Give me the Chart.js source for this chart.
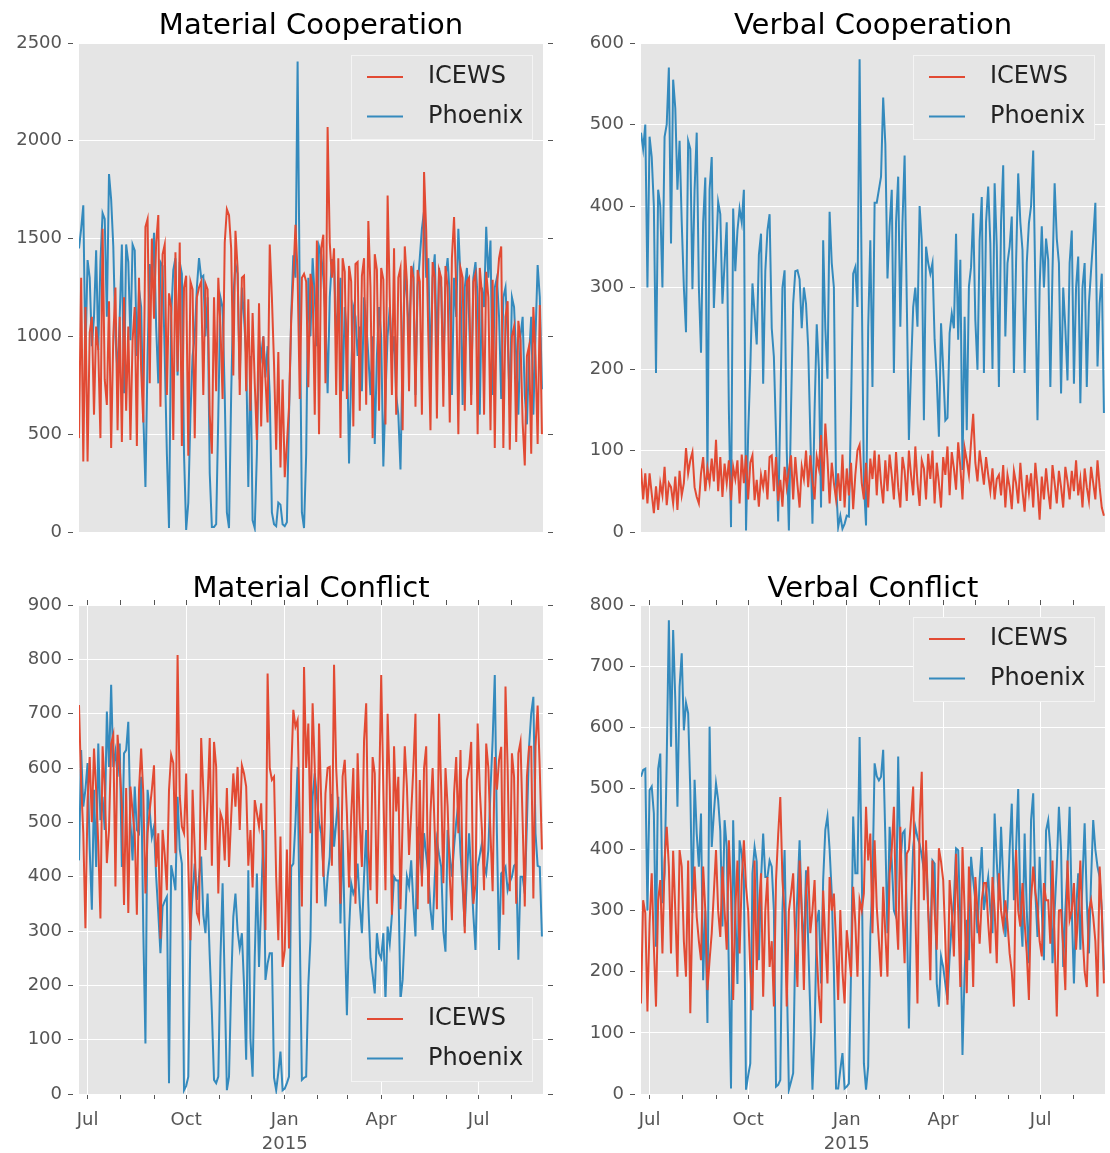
<!DOCTYPE html>
<html>
<head>
<meta charset="utf-8">
<title>ICEWS vs Phoenix</title>
<script src="https://cdn.jsdelivr.net/npm/chart.js@4.4.0/dist/chart.umd.min.js"></script>
<style>
  body { margin: 0; width: 1110px; height: 1153px; overflow: hidden; background: #fff; position: relative; }
  .panel { position: absolute; width: 560px; }
</style>
</head>
<body>
<div class="panel" style="left:0;top:0;height:560px"><canvas id="matCoop"></canvas></div>
<div class="panel" style="left:562px;top:0;height:560px"><canvas id="verbCoop"></canvas></div>
<div class="panel" style="left:0;top:563px;height:590px"><canvas id="matConf"></canvas></div>
<div class="panel" style="left:562px;top:563px;height:590px"><canvas id="verbConf"></canvas></div>
<script>
// Daily event counts, every second day from 2014-06-23
const startDate = '2014-06-23';
const stepDays = 2;
const lastDay = 433; // 2015-08-30

const seriesNames = ['ICEWS', 'Phoenix'];
const panelTitles = ['Material Cooperation', 'Verbal Cooperation', 'Material Conflict', 'Verbal Conflict'];

// x axis: one tick per month, labels only on the quarters
const monthStarts = ['2014-07-01', '2014-08-01', '2014-09-01', '2014-10-01', '2014-11-01', '2014-12-01',
    '2015-01-01', '2015-02-01', '2015-03-01', '2015-04-01', '2015-05-01', '2015-06-01', '2015-07-01', '2015-08-01'];
const monthLabels = ['Jul', '', '', 'Oct', '', '', ['Jan', '2015'], '', '', 'Apr', '', '', 'Jul', ''];

// y axis ticks per panel
const matCoopTicks = [0, 500, 1000, 1500, 2000, 2500];
const verbCoopTicks = [0, 100, 200, 300, 400, 500, 600];
const matConfTicks = [0, 100, 200, 300, 400, 500, 600, 700, 800, 900];
const verbConfTicks = [0, 100, 200, 300, 400, 500, 600, 700, 800];

const matCoopIcews = [
    480, 1300, 360, 1150, 360, 1020, 1100, 600, 1050, 930, 480, 1550, 780, 650,
    1180, 430, 1000, 1250, 520, 1100, 460, 1200, 620, 1050, 470, 980, 1150, 440,
    1300, 830, 560, 1560, 1600, 760, 1500, 1090, 1480, 1620, 640, 1420, 1470, 700,
    1220, 1150, 470, 1430, 820, 1480, 440, 1250, 1310, 390, 1280, 1240, 480, 1200,
    1250, 1280, 700, 1270, 1240, 600, 400, 1200, 720, 1300, 1050, 680, 1480, 1650,
    1620, 1450, 800, 1540, 1350, 700, 1300, 1310, 720, 1190, 620, 1120, 760, 470,
    1170, 540, 1000, 780, 560, 1470, 1200, 860, 420, 920, 330, 780, 280, 450,
    640, 1080, 1300, 1570, 1320, 680, 1300, 1320, 1280, 740, 1320, 1250, 600, 1490,
    500, 1450, 1520, 760, 2070, 1480, 1300, 1450, 700, 1400, 480, 1400, 1330, 680,
    1360, 1280, 540, 1370, 1380, 620, 1310, 1400, 650, 1590, 1250, 480, 1420, 1340,
    620, 1350, 1290, 550, 1720, 1200, 700, 1450, 600, 1300, 1350, 520, 1460, 1280,
    720, 1360, 1300, 640, 1340, 1280, 600, 1840, 1540, 1000, 520, 1380, 1300, 580,
    1340, 1300, 640, 1360, 1250, 560, 1400, 1610, 1250, 500, 1350, 1300, 620, 1280,
    1300, 650, 1280, 1320, 500, 1350, 1220, 600, 1330, 1200, 520, 1290, 430, 1250,
    1400, 1460, 430, 1100, 1180, 420, 1000, 1050, 460, 1080, 980, 560, 340, 900,
    950, 400, 1150, 900, 450, 1160, 500
];
const matCoopPhoenix = [
    1450, 1550, 1670, 900, 1390, 1300, 950, 1100, 1440, 930, 1380, 1630, 1600, 1100,
    1830, 1700, 1460, 1000, 810, 1100, 1470, 710, 1470, 1380, 980, 1470, 1440, 900,
    1240, 1150, 600, 230, 900, 1370, 1250, 1530, 1050, 760, 1380, 1360, 900, 400,
    20, 1100, 1340, 1400, 800, 1380, 1320, 400, 10, 150, 600, 900, 1000, 1250,
    1400, 1300, 1310, 1000, 1200, 300, 25, 25, 40, 600, 1200, 1150, 700, 100,
    20, 700, 1200, 1370, 1320, 780, 1250, 1100, 900, 230, 900, 60, 20, 400,
    980, 900, 1000, 790, 950, 700, 100, 40, 30, 150, 140, 40, 30, 50,
    600, 1100, 1415, 1300, 2405, 1200, 100, 20, 400, 1300, 1000, 1400, 1200, 950,
    1460, 1420, 1300, 1100, 710, 1200, 1390, 1390, 1000, 1150, 1300, 720, 1150, 1000,
    350, 800, 1150, 1100, 900, 1050, 720, 1200, 1080, 900, 700, 1000, 450, 900,
    1150, 1000, 335, 700, 1000, 1150, 900, 1000, 700, 600, 320, 900, 1340, 1200,
    1000, 1300, 1350, 700, 1250, 1400, 1550, 1640, 1300, 1400, 800, 1300, 1420, 900,
    1350, 1250, 800, 1300, 1400, 1200, 700, 1300, 1100, 1550, 1300, 650, 1250, 1350,
    1100, 700, 1300, 1380, 1200, 600, 1250, 1150, 1560, 1300, 1490, 700, 1250, 1300,
    1100, 680, 1200, 1250, 1000, 650, 1200, 1150, 900, 600, 1000, 1100, 700, 550,
    900, 1100, 600, 1000, 1365, 1200, 730
];

const verbCoopIcews = [
    78, 40, 72, 35, 72, 47, 23, 56, 27, 60, 45, 80, 33, 60,
    55, 35, 68, 27, 75, 45, 60, 103, 72, 88, 98, 55, 43, 35,
    72, 92, 50, 78, 60, 90, 62, 113, 50, 92, 43, 84, 60, 88,
    39, 80, 65, 88, 35, 95, 60, 94, 40, 85, 94, 39, 64, 31,
    70, 55, 76, 40, 92, 94, 50, 92, 38, 64, 31, 80, 55, 76,
    94, 40, 92, 58, 30, 80, 65, 100, 55, 94, 62, 40, 92, 78,
    119, 50, 133, 90, 35, 85, 60, 40, 72, 38, 95, 30, 78, 45,
    85, 28, 70, 100, 107, 60, 40, 85, 30, 90, 65, 100, 45, 95,
    60, 35, 88, 50, 95, 70, 40, 98, 55, 30, 92, 75, 38, 100,
    70, 45, 105, 60, 32, 88, 78, 40, 96, 65, 100, 35, 85, 60,
    30, 92, 70, 105, 45, 98, 78, 52, 110, 80, 40, 103, 88, 70,
    110, 145, 85, 62, 100, 80, 58, 92, 70, 50, 78, 40, 65, 70,
    45, 82, 30, 70, 55, 28, 75, 60, 35, 85, 50, 25, 70, 48,
    72, 30, 85, 55, 15, 68, 40, 78, 50, 28, 82, 60, 35, 75,
    55, 30, 80, 62, 40, 75, 50, 88, 45, 65, 30, 78, 55, 38,
    80, 60, 40, 88, 55, 30, 20
];
const verbCoopPhoenix = [
    490, 470, 500, 300, 485, 460, 400, 195, 420, 400, 300, 485, 500, 570,
    354, 555, 520, 420, 480, 380, 300, 245, 480, 470, 298, 420, 490, 300,
    220, 380, 435, 64, 420, 460, 275, 340, 405, 390, 280, 330, 380, 150,
    6, 397, 320, 370, 397, 380, 420, 2, 120, 200, 305, 268, 230, 340,
    366, 182, 320, 370, 390, 250, 215, 120, 13, 150, 300, 321, 100, 2,
    150, 280, 320, 321, 310, 250, 300, 280, 227, 120, 10, 150, 255, 200,
    30, 358, 250, 188, 393, 330, 300, 60, 6, 20, 4, 10, 20, 19,
    150, 317, 325, 276, 580, 300, 60, 8, 250, 358, 178, 404, 404, 420,
    436, 533, 476, 311, 375, 420, 195, 380, 436, 252, 379, 462, 285, 113,
    200, 276, 300, 252, 400, 358, 137, 350, 330, 317, 330, 236, 188, 117,
    256, 200, 137, 140, 244, 268, 250, 366, 236, 334, 76, 264, 125, 301,
    325, 391, 260, 199, 358, 411, 195, 380, 424, 354, 200, 428, 350, 178,
    380, 450, 240, 330, 350, 387, 195, 330, 440, 380, 346, 195, 330, 379,
    400, 468, 300, 137, 300, 375, 300, 360, 334, 178, 320, 428, 360, 330,
    170, 300, 250, 186, 330, 370, 182, 300, 338, 158, 300, 330, 178, 280,
    321, 360, 404, 203, 280, 317, 146
];

const matConfIcews = [
    716, 572, 480, 305, 540, 620, 500, 636, 560, 458, 323, 640, 566, 425,
    486, 645, 661, 382, 661, 602, 529, 348, 563, 333, 566, 520, 480, 330,
    560, 636, 553, 369, 480, 523, 560, 605, 418, 480, 286, 486, 440, 375,
    560, 624, 609, 443, 808, 550, 492, 480, 590, 420, 283, 560, 450, 333,
    320, 655, 560, 449, 541, 655, 420, 648, 602, 369, 517, 504, 430, 563,
    418, 510, 590, 529, 602, 486, 605, 590, 566, 420, 486, 380, 541, 517,
    492, 535, 420, 302, 774, 600, 578, 584, 400, 283, 474, 234, 265, 450,
    268, 590, 707, 676, 688, 500, 345, 786, 600, 682, 480, 719,
    600, 351, 682, 541, 400, 553, 600, 602, 420, 790, 600, 517, 350, 584,
    615, 517, 380, 510, 600, 350, 627, 500, 418, 650, 719, 450, 375, 620,
    590, 350, 541, 771, 560, 375, 700, 566, 330, 640, 520, 584, 340, 504,
    640, 566, 440, 517, 600, 700, 340, 578, 382, 600, 640, 350, 517, 600,
    480, 340, 700, 560, 388, 600, 529, 400, 320, 553, 620, 480, 633, 400,
    296, 578, 600, 648, 350, 386, 682, 560, 486, 375, 645, 600, 480, 373,
    620, 560, 615, 639, 330, 750, 600, 373, 627, 584, 350, 627, 648, 500,
    345, 584, 639, 639, 360, 639, 715, 597, 450
];
const matConfPhoenix = [
    430, 633, 529, 560, 609, 450, 339, 560, 418, 645, 504, 547, 486, 704,
    602, 753, 602, 630, 584, 645, 418, 627, 633, 685, 500, 430, 566, 486,
    480, 584, 300, 93, 560, 520, 473, 492, 400, 333, 259, 345, 355, 363,
    20, 421, 400, 375, 547, 450, 424, 7, 15, 32, 300, 369, 424, 357,
    400, 437, 330, 296, 369, 253, 150, 26, 20, 32, 250, 388, 200, 7,
    32, 200, 326, 369, 300, 268, 296, 200, 63, 412, 100, 32, 250, 406,
    234, 350, 486, 210, 240, 259, 259, 30, 7, 40, 78, 7, 10, 20,
    32, 418, 424, 500, 602, 300, 26, 30, 32, 200, 286, 547,
    590, 547, 500, 480, 418, 345, 400, 437, 552, 455, 500, 547, 314, 486,
    300, 145, 300, 388, 369, 380, 424, 350, 296, 400, 486, 350, 250, 220,
    185, 296, 259, 250, 296, 173, 308, 277, 330, 400, 393, 393, 173, 210,
    300, 400, 382, 430, 350, 290, 492, 440, 400, 480, 440, 406, 340, 302,
    400, 467, 440, 418, 300, 262, 486, 440, 400, 455, 500, 535, 443, 380,
    308, 400, 480, 406, 330, 265, 418, 440, 461, 420, 406, 449, 560, 651,
    771, 480, 265, 406, 410, 418, 375, 390, 400, 420, 424, 247, 400, 400,
    369, 500, 639, 700, 731, 480, 420, 418, 290
];

const verbConfIcews = [
    148, 317, 296, 135, 279, 361, 241, 143, 317, 350, 230, 380, 437, 372,
    230, 398, 300, 192, 399, 372, 250, 192, 382, 132, 300, 372, 290, 250,
    219, 372, 300, 170, 219, 263, 330, 399, 300, 257, 372, 300, 236, 415,
    330, 154, 300, 382, 230, 350, 415, 339, 300, 200, 137, 382, 203, 300,
    361, 159, 300, 355, 208, 250, 143, 350, 424, 486, 350, 296, 143, 300,
    328, 361, 250, 175, 382, 300, 170, 330, 372, 263, 300, 350, 230, 160,
    116, 333, 250, 181, 355, 300, 328, 250, 154, 301, 200, 148, 268, 230,
    192, 339, 280, 192, 317, 300, 328, 470, 382, 426, 263, 415,
    306, 250, 192, 339, 263, 192, 361, 400, 470, 300, 236, 437, 300, 214,
    393, 400, 450, 503, 300, 148, 448, 527, 317, 415, 300, 186, 382, 300,
    236, 402, 380, 350, 250, 146, 350, 300, 225, 393, 300, 175, 404, 300,
    165, 372, 300, 175, 355, 300, 246, 317, 345, 345, 280, 230, 355, 300,
    214, 361, 300, 274, 317, 280, 230, 200, 143, 399, 300, 274, 345, 280,
    230, 154, 317, 372, 330, 306, 250, 225, 345, 317, 317, 246, 382, 250,
    127, 300, 301, 240, 170, 382, 285, 300, 345, 236, 300, 382, 263, 200,
    175, 300, 317, 290, 250, 159, 372, 300, 181
];
const verbConfPhoenix = [
    519, 530, 532, 300, 497, 503, 459, 241, 532, 557, 312, 361, 546, 775,
    568, 759, 645, 470, 666, 721, 595, 640, 623, 497, 296, 514, 426, 372,
    459, 186, 300, 116, 601, 404, 459, 508, 481, 430, 274, 448, 404, 200,
    9, 448, 300, 180, 415, 393, 350, 7, 30, 50, 361, 404, 380, 219,
    350, 426, 355, 355, 382, 372, 300, 12, 15, 23, 300, 399, 200, 7,
    20, 34, 250, 328, 415, 300, 236, 366, 250, 132, 7, 100, 280, 301,
    181, 350, 432, 454, 400, 328, 200, 9, 9, 40, 67, 9, 12, 17,
    200, 454, 361, 361, 584, 372, 50, 7, 45, 263, 345, 541,
    520, 513, 519, 563, 420, 263, 437, 382, 300, 290, 552, 372, 426, 431,
    300, 107, 300, 404, 437, 420, 409, 390, 366, 399, 300, 246, 382, 377,
    181, 143, 225, 208, 180, 154, 225, 280, 317, 402, 399, 285, 64, 200,
    285, 219, 388, 350, 317, 263, 350, 404, 301, 330, 355, 300, 263, 459,
    380, 317, 437, 350, 257, 306, 400, 475, 317, 400, 499, 300, 241, 426,
    300, 214, 448, 492, 330, 257, 388, 300, 219, 431, 448, 400, 214, 300,
    372, 470, 400, 208, 300, 372, 470, 300, 181, 300, 361, 236, 350, 443,
    317, 230, 350, 448, 400, 372, 355, 300, 203
];

const icewsColor = '#E24A33';
const phoenixColor = '#348ABD';
const tickGray = '#555555';

Chart.defaults.font.family = '"DejaVu Sans", sans-serif';

function dayOffset(s) {
    return Math.round((new Date(s + 'T00:00:00Z') - new Date(startDate + 'T00:00:00Z')) / 86400000);
}
const monthDays = monthStarts.map(dayOffset);

function toPoints(values) {
    return values.map((v, i) => ({ x: i * stepDays, y: v }));
}

// grey plotting area like matplotlib's ggplot style
const plotBg = {
    id: 'plotBg',
    beforeDraw(chart) {
        const { ctx, chartArea: a } = chart;
        ctx.save();
        ctx.fillStyle = '#E5E5E5';
        ctx.fillRect(a.left, a.top, a.width, a.height);
        ctx.restore();
    }
};

// legend box drawn inside the axes
const boxLegend = {
    id: 'boxLegend',
    afterDatasetsDraw(chart, args, opts) {
        const { ctx, chartArea: a } = chart;
        const w = 182, h = 85;
        const x = a.right - 10 - w;
        const y = opts.corner === 'bottom' ? a.bottom - 12 - h : a.top + 12;
        ctx.save();
        ctx.fillStyle = '#E5E5E5';
        ctx.fillRect(x, y, w, h);
        ctx.strokeStyle = '#F4F4F4';
        ctx.lineWidth = 1;
        ctx.strokeRect(x + 0.5, y + 0.5, w - 1, h - 1);
        chart.data.datasets.forEach((ds, i) => {
            const ly = y + 22 + i * 39.5;
            ctx.strokeStyle = ds.borderColor;
            ctx.lineWidth = 2;
            ctx.beginPath();
            ctx.moveTo(x + 16, ly);
            ctx.lineTo(x + 52, ly);
            ctx.stroke();
            ctx.fillStyle = '#222222';
            ctx.font = '24px "DejaVu Sans"';
            ctx.textBaseline = 'middle';
            ctx.fillText(ds.label, x + 77, ly);
        });
        ctx.restore();
    }
};

function makePanel(id, title, icews, phoenix, yTicks, legendCorner, bottomRow) {
    const setYTicks = s => { s.ticks = yTicks.map(v => ({ value: v })); };
    const setXTicks = s => { s.ticks = monthDays.map(v => ({ value: v })); };
    const yMax = yTicks[yTicks.length - 1];

    const scales = {
        x: {
            type: 'linear',
            display: bottomRow,
            min: 0,
            max: lastDay,
            afterBuildTicks: setXTicks,
            afterFit: s => { s.height = bottomRow ? 59 : 0; },
            border: { display: false },
            grid: {
                color: ctx => (monthLabels[ctx.index] ? '#FFFFFF' : 'rgba(0,0,0,0)'),
                lineWidth: 1,
                tickColor: tickGray,
                tickLength: 5
            },
            ticks: {
                autoSkip: false,
                maxRotation: 0,
                padding: 10,
                color: tickGray,
                font: { size: 18, lineHeight: 1.3 },
                callback: (v, i) => monthLabels[i]
            }
        },
        y: {
            min: 0,
            max: yMax,
            afterBuildTicks: setYTicks,
            afterFit: s => { s.width = 79; },
            border: { display: false },
            grid: { color: '#FFFFFF', lineWidth: 1, tickColor: tickGray, tickLength: 11, tickBorderDash: [5, 6] },
            ticks: { color: tickGray, padding: 6, font: { size: 18 }, callback: v => String(v) }
        },
        y2: {
            position: 'right',
            min: 0,
            max: yMax,
            afterBuildTicks: setYTicks,
            afterFit: s => { s.width = 12; },
            border: { display: false },
            grid: { drawOnChartArea: false, tickColor: tickGray, tickLength: 10, tickBorderDash: [0, 5, 5, 10] },
            ticks: { display: false }
        }
    };
    if (bottomRow) {
        scales.x2 = {
            type: 'linear',
            position: 'top',
            min: 0,
            max: lastDay,
            afterBuildTicks: setXTicks,
            afterFit: s => { s.height = 1; },
            border: { display: false },
            grid: { drawOnChartArea: false, tickColor: tickGray, tickLength: 5 },
            ticks: { display: false }
        };
    }

    new Chart(document.getElementById(id), {
        type: 'line',
        data: {
            datasets: [
                { label: seriesNames[0], data: toPoints(icews), borderColor: icewsColor, borderWidth: 2, pointRadius: 0, tension: 0 },
                { label: seriesNames[1], data: toPoints(phoenix), borderColor: phoenixColor, borderWidth: 2, pointRadius: 0, tension: 0 }
            ]
        },
        options: {
            animation: false,
            responsive: true,
            maintainAspectRatio: false,
            devicePixelRatio: 1,
            layout: { padding: { left: 0, right: 5, top: 0, bottom: bottomRow ? 0 : 28 } },
            scales: scales,
            plugins: {
                legend: { display: false },
                tooltip: { enabled: false },
                title: {
                    display: true,
                    text: title,
                    fullSize: false,
                    color: '#000000',
                    font: { size: 29, weight: 'normal', lineHeight: 1 },
                    padding: { top: 12, bottom: bottomRow ? 0 : 2 }
                },
                boxLegend: { corner: legendCorner }
            }
        },
        plugins: [plotBg, boxLegend]
    });
}

makePanel('matCoop', panelTitles[0], matCoopIcews, matCoopPhoenix, matCoopTicks, 'top', false);
makePanel('verbCoop', panelTitles[1], verbCoopIcews, verbCoopPhoenix, verbCoopTicks, 'top', false);
makePanel('matConf', panelTitles[2], matConfIcews, matConfPhoenix, matConfTicks, 'bottom', true);
makePanel('verbConf', panelTitles[3], verbConfIcews, verbConfPhoenix, verbConfTicks, 'top', true);
</script>
</body>
</html>
